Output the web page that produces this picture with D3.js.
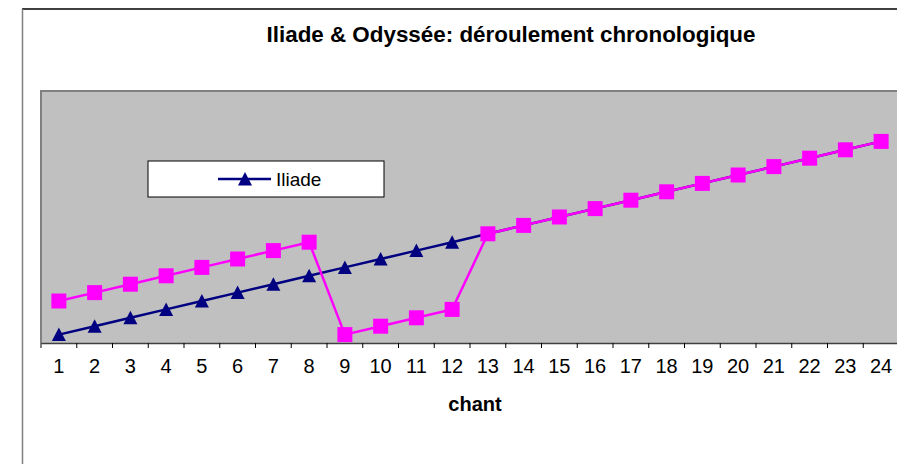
<!DOCTYPE html>
<html>
<head>
<meta charset="utf-8">
<script src="https://cdn.jsdelivr.net/npm/d3@7"></script>
<style>
  body { margin: 0; background: #fff; }
  svg { display: block; font-family: "Liberation Sans", Arial, sans-serif; }
</style>
</head>
<body>
<div class="chart"></div>
<script>
// chants 1..24, position in the story timeline
var chants = d3.range(1, 25);
var iliade = [1, 2, 3, 4, 5, 6, 7, 8, 9, 10, 11, 12, 13, 14, 15, 16, 17, 18, 19, 20, 21, 22, 23, 24];
var odyssee = [5, 6, 7, 8, 9, 10, 11, 12, 1, 2, 3, 4, 13, 14, 15, 16, 17, 18, 19, 20, 21, 22, 23, 24];
var titleText = "Iliade & Odyssée: déroulement chronologique";
var xTitle = "chant";

var width = 897, height = 464;
var plot = { left: 41, top: 91, right: 899, bottom: 343 };

var svg = d3.select("div.chart").append("svg")
    .attr("width", width)
    .attr("height", height);

// outer chart frame (only top and left are in view)
svg.append("line").attr("x1", 22).attr("x2", width).attr("y1", 9).attr("y2", 9)
    .attr("stroke", "#000").attr("stroke-width", 1.5);
svg.append("line").attr("x1", 22.5).attr("x2", 22.5).attr("y1", 9).attr("y2", height)
    .attr("stroke", "#808080").attr("stroke-width", 1.5);

var x = d3.scaleBand()
    .domain(chants)
    .range([plot.left, plot.right])
    .padding(0);

var y = d3.scaleLinear()
    .domain([0, 30])
    .range([plot.bottom, plot.top]);

// plot area
svg.append("rect")
    .attr("x", plot.left).attr("y", plot.top)
    .attr("width", plot.right - plot.left)
    .attr("height", plot.bottom - plot.top)
    .attr("fill", "#c0c0c0");
svg.append("path")
    .attr("d", "M" + plot.left + "," + plot.bottom + "V" + plot.top + "H" + width)
    .attr("fill", "none")
    .attr("stroke", "#808080")
    .attr("stroke-width", 2);

// x axis
var xAxis = d3.axisBottom(x).tickSize(0).tickPadding(16);
var gx = svg.append("g")
    .attr("transform", "translate(0," + plot.bottom + ")")
    .call(xAxis);
gx.select(".domain").attr("stroke", "#404040").attr("stroke-width", 1.5);
gx.selectAll("text")
    .attr("font-size", 20)
    .attr("font-family", "Liberation Sans, Arial, sans-serif")
    .attr("fill", "#000");
// tick marks sit between categories
gx.selectAll(".sep")
    .data(d3.range(0, chants.length + 1))
    .enter().append("line")
    .attr("class", "sep")
    .attr("x1", function (i) { return plot.left + i * x.bandwidth(); })
    .attr("x2", function (i) { return plot.left + i * x.bandwidth(); })
    .attr("y1", 0).attr("y2", 5)
    .attr("stroke", "#000").attr("stroke-width", 1);

var cx = function (d, i) { return x(chants[i]) + x.bandwidth() / 2; };

var line = d3.line()
    .x(function (d, i) { return cx(d, i); })
    .y(function (d) { return y(d); });

// triangle marker, centred on the point like Excel does it
var tri = "M0,-7L7,6.5L-7,6.5Z";

// Iliade
svg.append("path")
    .datum(iliade)
    .attr("d", line)
    .attr("fill", "none")
    .attr("stroke", "#000080")
    .attr("stroke-width", 2.5);
svg.selectAll("path.tri")
    .data(iliade)
    .enter().append("path")
    .attr("class", "tri")
    .attr("d", tri)
    .attr("transform", function (d, i) { return "translate(" + cx(d, i) + "," + y(d) + ")"; })
    .attr("fill", "#000080");

// Odyssée
svg.append("path")
    .datum(odyssee)
    .attr("d", line)
    .attr("fill", "none")
    .attr("stroke", "#ff00ff")
    .attr("stroke-width", 2.5);
svg.selectAll("rect.sq")
    .data(odyssee)
    .enter().append("rect")
    .attr("class", "sq")
    .attr("x", function (d, i) { return cx(d, i) - 7.5; })
    .attr("y", function (d) { return y(d) - 7.5; })
    .attr("width", 15).attr("height", 15)
    .attr("fill", "#ff00ff");

// legend
var legend = svg.append("g").attr("transform", "translate(148,161)");
legend.append("rect")
    .attr("width", 236).attr("height", 36)
    .attr("fill", "#fff").attr("stroke", "#000").attr("stroke-width", 1);
legend.append("line")
    .attr("x1", 70).attr("x2", 123).attr("y1", 18).attr("y2", 18)
    .attr("stroke", "#000080").attr("stroke-width", 2.5);
legend.append("path")
    .attr("d", tri)
    .attr("transform", "translate(97,18)")
    .attr("fill", "#000080");
legend.append("text")
    .attr("x", 128).attr("y", 25)
    .attr("font-size", 19)
    .text("Iliade");

// title
svg.append("text")
    .attr("x", 511).attr("y", 42)
    .attr("text-anchor", "middle")
    .attr("font-size", 22.4)
    .attr("font-weight", "bold")
    .text(titleText);

// x axis title
svg.append("text")
    .attr("x", 475).attr("y", 411)
    .attr("text-anchor", "middle")
    .attr("font-size", 20)
    .attr("font-weight", "bold")
    .text(xTitle);
</script>
</body>
</html>
